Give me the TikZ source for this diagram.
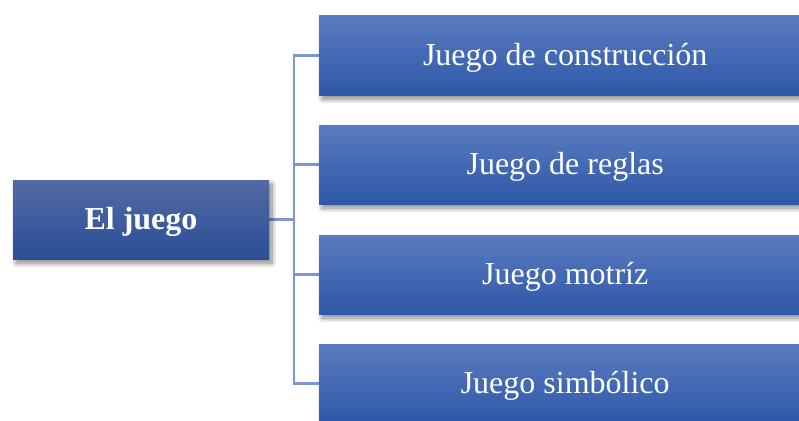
\documentclass[tikz,border=0pt]{standalone}
\usepackage{fontspec}
\setmainfont{Liberation Serif}
\usetikzlibrary{backgrounds,shadows.blur}

\definecolor{juegotop}{RGB}{84,106,166}
\definecolor{juegobot}{RGB}{42,78,150}
\definecolor{tipotop}{RGB}{90,123,192}
\definecolor{tipobot}{RGB}{46,88,168}
\definecolor{rama}{RGB}{124,150,214}

\begin{document}
\begin{tikzpicture}[x=1pt,y=-1pt, every node/.style={text=white,font=\fontsize{32}{34}\selectfont},
	caja/.style={minimum height=79pt,inner sep=0pt,text height=21pt,text depth=1.5pt,blur shadow={shadow xshift=3pt,shadow yshift=-4pt,shadow blur steps=10,shadow blur radius=5pt,shadow opacity=50}},
	raiz/.style={caja,minimum width=256pt,top color=juegotop,bottom color=juegobot,font=\fontsize{32}{34}\selectfont\bfseries},
	tipo/.style={caja,minimum width=492pt,anchor=west,top color=tipotop,bottom color=tipobot},
	conector/.style={draw=rama,line width=2.5pt}]

    \clip (0,0) rectangle (799,420);
    \useasboundingbox (0,0) rectangle (799,420);

    \node[raiz] (juego) at (141,219.5) {El juego};

    \node[tipo] (cons) at (319,55.5) {Juego de construcción};
    \node[tipo] (regl) at (319,164.5) {Juego de reglas};
    \node[tipo] (motr) at (319,274.5) {Juego motríz};
    \node[tipo] (simb) at (319,383.5) {Juego simbólico};

    \coordinate (bus) at (294,219.5);

    \begin{pgfonlayer}{background}
    \draw[conector] (juego.east) -- (bus);
    \draw[conector] (cons.west) -| (bus) |- (simb.west);
    \draw[conector] (bus |- regl.west) -- (regl.west);
    \draw[conector] (bus |- motr.west) -- (motr.west);
    \end{pgfonlayer}

\end{tikzpicture}
\end{document}
